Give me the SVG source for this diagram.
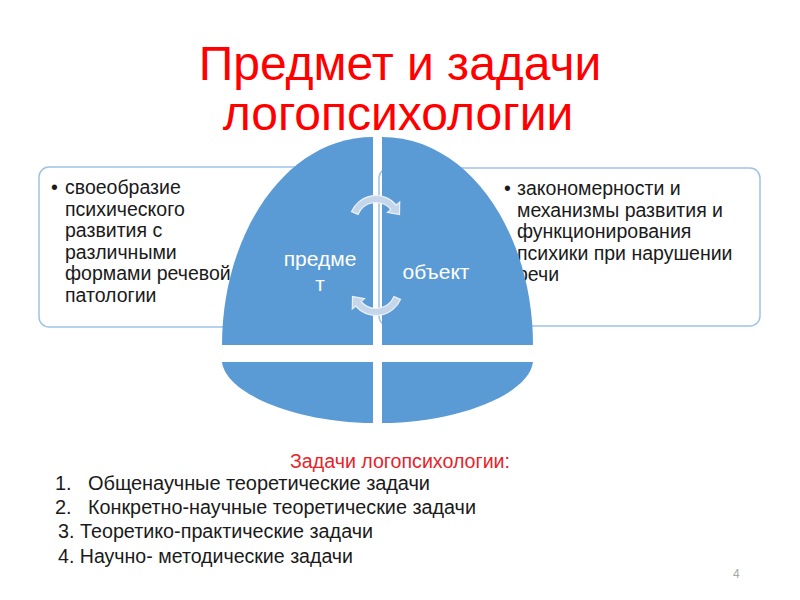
<svg xmlns="http://www.w3.org/2000/svg" width="800" height="600" viewBox="0 0 800 600">
<style>
.t{font-family:"Liberation Sans",Arial,sans-serif}
.box{fill:#fff;stroke:#9DC3E6;stroke-width:1.5}
.q{fill:#5B9BD5}
.bt{font-size:19.5px;fill:#1a1a1a}
.qt{font-size:21px;fill:#fff}
.arr{fill:#C6D6EA;stroke:#EAF1F9;stroke-width:1.2}
.lst{font-size:20px;fill:#1a1a1a}
</style>
<rect width="800" height="600" fill="#fff"/>
<g id="title">
<text class="t" x="400" y="80" font-size="48" fill="#FF0000" text-anchor="middle">Предмет и задачи</text>
<text class="t" x="398" y="130" font-size="48" fill="#FF0000" text-anchor="middle">логопсихологии</text>
</g>
<g id="box-left">
<rect class="box" x="39" y="167" width="333" height="160" rx="10"/>
<text class="t bt"><tspan x="51" y="194">•</tspan><tspan x="65" y="194">своеобразие</tspan><tspan x="65" y="215.5">психического</tspan><tspan x="65" y="237">развития с</tspan><tspan x="65" y="258.5">различными</tspan><tspan x="65" y="280">формами речевой</tspan><tspan x="65" y="301.5">патологии</tspan></text>
</g>
<g id="box-right">
<rect class="box" x="379" y="168" width="381" height="158" rx="10"/>
<text class="t bt"><tspan x="504" y="195">•</tspan><tspan x="517" y="195">закономерности и</tspan><tspan x="517" y="216.5">механизмы развития и</tspan><tspan x="517" y="238">функционирования</tspan><tspan x="517" y="259.5">психики при нарушении</tspan><tspan x="517" y="281">речи</tspan></text>
</g>
<g id="node-predmet">
<path class="q" d="M222,345 C222,235 285,137 373,137 L373,345 Z"/>
<text class="t qt" text-anchor="middle"><tspan x="320" y="266">предме</tspan><tspan x="320" y="291">т</tspan></text>
</g>
<g id="node-object">
<path class="q" d="M533,345 C533,235 470,137 382,137 L382,345 Z"/>
<text class="t qt" x="436" y="279" text-anchor="middle">объект</text>
</g>
<g id="node-bottom-left">
<path class="q" d="M222,362 L373,362 L373,423 C300,423 226,395 222,362 Z"/>
</g>
<g id="node-bottom-right">
<path class="q" d="M533,362 L382,362 L382,423 C455,423 529,395 533,362 Z"/>
</g>
<g id="connectors">
<path id="arrow-top" class="arr" d="M351.6,211.6 A26.5,26.5 0 0 1 396.3,205 L399.7,202.1 L399.5,214.5 L387.5,212.4 L390.9,209.5 A19.5,19.5 0 0 0 358.05,214.4 Z"/>
<path id="arrow-bottom" class="arr" transform="rotate(180 376 255.5)" d="M351.6,211.6 A26.5,26.5 0 0 1 396.3,205 L399.7,202.1 L399.5,214.5 L387.5,212.4 L390.9,209.5 A19.5,19.5 0 0 0 358.05,214.4 Z"/>
</g>
<g id="tasks">
<text class="t" x="290" y="468" font-size="19.5" fill="#E8232A" textLength="220" lengthAdjust="spacingAndGlyphs">Задачи логопсихологии:</text>
<text class="t lst"><tspan x="55" y="490">1.</tspan></text>
<text class="t lst" x="88" y="490" textLength="342" lengthAdjust="spacing">Общенаучные теоретические задачи</text>
<text class="t lst"><tspan x="55" y="514">2.</tspan></text>
<text class="t lst" x="88" y="514" textLength="388" lengthAdjust="spacingAndGlyphs">Конкретно-научные теоретические задачи</text>
<text class="t lst" x="58" y="538" textLength="315" lengthAdjust="spacingAndGlyphs">3. Теоретико-практические задачи</text>
<text class="t lst" x="58" y="563" textLength="295" lengthAdjust="spacingAndGlyphs">4. Научно- методические задачи</text>
</g>
<text class="t" x="733" y="578" font-size="12" fill="#A6A6A6">4</text>
</svg>
